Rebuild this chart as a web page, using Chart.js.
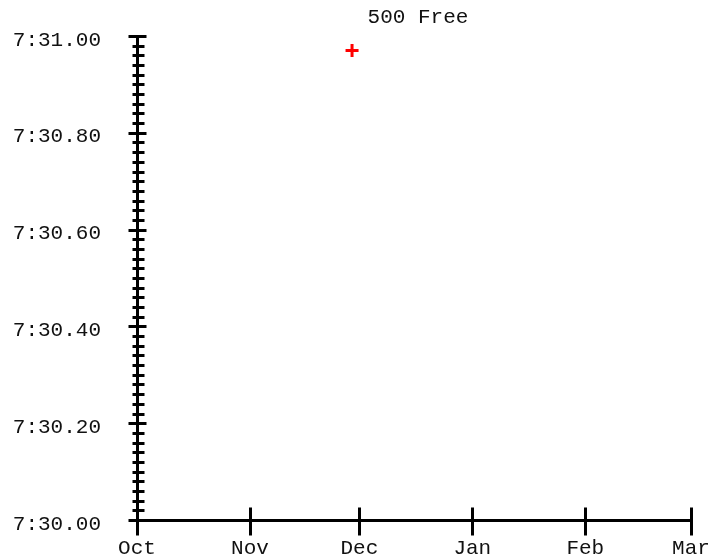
<!DOCTYPE html>
<html>
<head>
<meta charset="utf-8">
<script src="https://cdn.jsdelivr.net/npm/chart.js@4.4.1/dist/chart.umd.min.js"></script>
<style>
  html, body { margin: 0; padding: 0; background: #fff; }
  #wrap { width: 727px; height: 557px; }
</style>
</head>
<body>
<div id="wrap"><canvas id="chart"></canvas></div>
<script>
// chart data
const chartTitle = "500 Free";
const seasonStart = "2023-10-01";
const swimDates = ["2023-11-29"];
const swimTimes = [450.97]; // seconds -> 7:30.97
const monthLabels = ["Oct", "Nov", "Dec", "Jan", "Feb", "Mar"];
const monthStarts = ["2023-10-01", "2023-11-01", "2023-12-01", "2024-01-01", "2024-02-01", "2024-03-01"];
const yMin = 450, yMax = 451;
const yLabelStep = 0.2, yMinorStep = 0.02;

const FONT = '"Liberation Mono", "Courier New", monospace';
const dayMs = 86400000;
const toDay = d => (Date.parse(d) - Date.parse(seasonStart)) / dayMs;
const monthDays = monthStarts.map(toDay);

function fmtTime(v) {
  const m = Math.floor(v / 60 + 1e-9);
  const s = (v - m * 60).toFixed(2).padStart(5, "0");
  return m + ":" + s;
}

// draws the axis lines and tick marks that cross the axes
const axisMarks = {
  id: "axisMarks",
  beforeDatasetsDraw(chart) {
    const { ctx, chartArea } = chart;
    const xs = chart.scales.x, ys = chart.scales.y;
    const ax = Math.round(chartArea.left) + 0.5;
    const ay = Math.round(chartArea.bottom) + 0.5;
    ctx.save();
    ctx.strokeStyle = "#000";
    ctx.lineWidth = 3;
    ctx.beginPath();
    // axis lines
    ctx.moveTo(ax, Math.round(ys.getPixelForValue(yMax)) + 0.5);
    ctx.lineTo(ax, ay);
    ctx.moveTo(ax, ay);
    ctx.lineTo(Math.round(xs.getPixelForValue(monthDays[monthDays.length - 1])) + 0.5, ay);
    // y ticks
    const n = Math.round((yMax - yMin) / yMinorStep);
    const every = Math.round(yLabelStep / yMinorStep);
    for (let i = 0; i <= n; i++) {
      const py = Math.round(ys.getPixelForValue(yMin + i * yMinorStep)) + 0.5;
      if (i % every === 0) {
        ctx.moveTo(ax - 9, py); ctx.lineTo(ax + 9, py);
      } else {
        ctx.moveTo(ax - 5, py); ctx.lineTo(ax + 7, py);
      }
    }
    // x ticks
    monthDays.forEach(d => {
      const px = Math.round(xs.getPixelForValue(d)) + 0.5;
      ctx.moveTo(px, ay - 13); ctx.lineTo(px, ay + 15);
    });
    ctx.stroke();
    ctx.restore();
  }
};

// title centred over the plot area
const plotTitle = {
  id: "plotTitle",
  afterDraw(chart) {
    const { ctx, chartArea } = chart;
    ctx.save();
    ctx.font = "21px " + FONT;
    ctx.fillStyle = "#111";
    ctx.textAlign = "center";
    ctx.textBaseline = "alphabetic";
    ctx.fillText(chartTitle, (chartArea.left + chartArea.right) / 2 + 4, 23);
    ctx.restore();
  }
};

new Chart(document.getElementById("chart"), {
  type: "scatter",
  data: {
    datasets: [{
      data: swimDates.map((d, i) => ({ x: toDay(d), y: swimTimes[i] })),
      pointStyle: "cross",
      pointRadius: 6.5,
      pointHoverRadius: 6.5,
      borderWidth: 3,
      borderColor: "#ff0000",
      backgroundColor: "#ff0000",
      clip: false
    }]
  },
  options: {
    responsive: true,
    maintainAspectRatio: false,
    animation: false,
    events: [],
    layout: { padding: { left: 0, right: 36, top: 36, bottom: 0 } },
    plugins: { legend: { display: false }, tooltip: { enabled: false }, title: { display: false } },
    scales: {
      x: {
        type: "linear",
        min: monthDays[0],
        max: monthDays[monthDays.length - 1],
        afterBuildTicks: scale => { scale.ticks = monthDays.map(v => ({ value: v })); },
        afterFit: scale => {
          scale.height = 37;
          scale.paddingLeft = 0; scale.paddingRight = 0;
          scale.paddingTop = 0; scale.paddingBottom = 0;
        },
        grid: { display: false, drawTicks: false },
        border: { display: false },
        ticks: {
          autoSkip: false,
          maxRotation: 0,
          padding: 16,
          color: "#111",
          font: { family: FONT, size: 21 },
          callback: (v) => monthLabels[monthDays.indexOf(v)]
        }
      },
      y: {
        type: "linear",
        min: yMin,
        max: yMax,
        afterFit: scale => {
          scale.width = 137;
          scale.paddingTop = 0; scale.paddingBottom = 0;
          scale.paddingLeft = 0; scale.paddingRight = 0;
        },
        grid: { display: false, drawTicks: false },
        border: { display: false },
        ticks: {
          stepSize: yLabelStep,
          padding: 36,
          labelOffset: 4,
          color: "#111",
          font: { family: FONT, size: 21 },
          callback: v => fmtTime(v)
        }
      }
    }
  },
  plugins: [axisMarks, plotTitle]
});
</script>
</body>
</html>
